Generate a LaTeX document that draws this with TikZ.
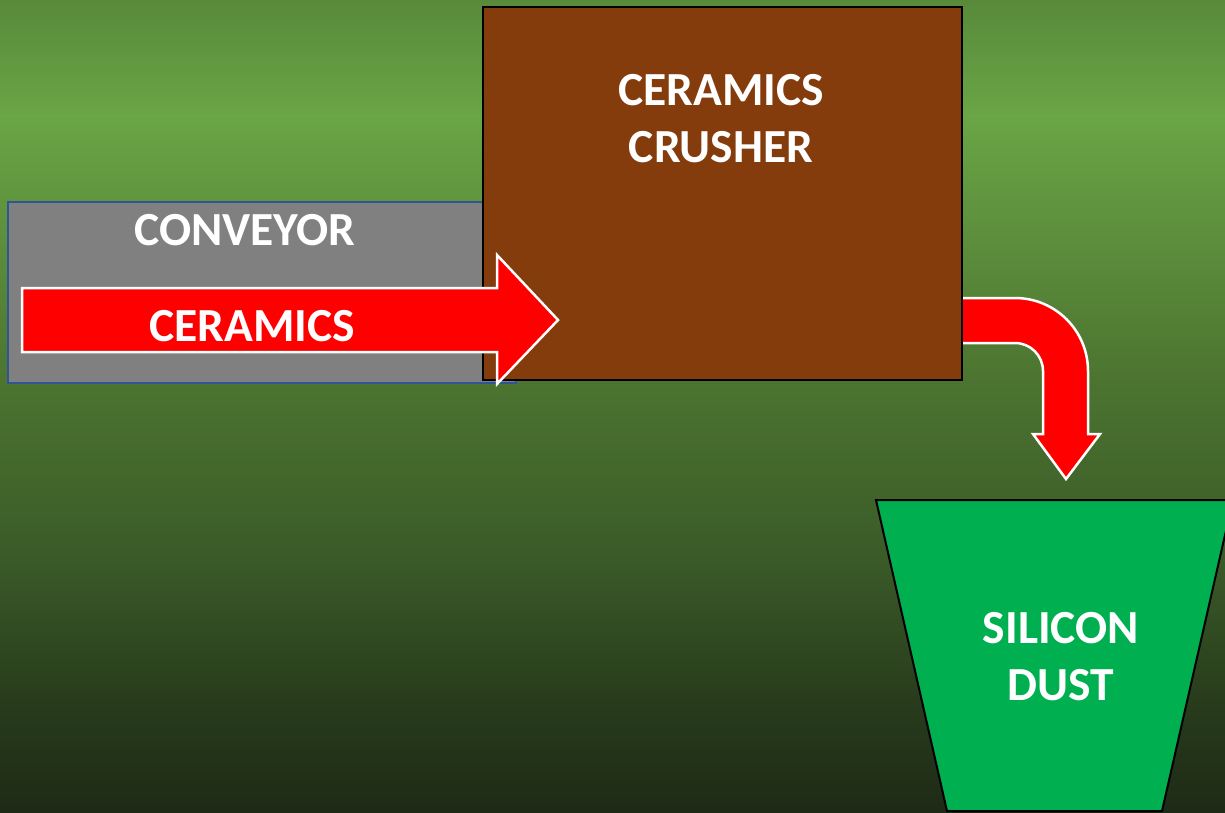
\documentclass[tikz,border=0pt]{standalone}
\usepackage{fontspec}
\setmainfont{Carlito}
\definecolor{bgT}{RGB}{88,138,58}
\definecolor{bgL}{RGB}{106,165,70}
\definecolor{bgB}{RGB}{76,116,48}
\definecolor{bgB2}{RGB}{58,90,40}
\definecolor{bgC}{RGB}{40,60,28}
\definecolor{bgD}{RGB}{30,42,22}
\definecolor{convgray}{RGB}{128,128,128}
\definecolor{convblue}{RGB}{47,85,151}
\definecolor{crushbrown}{RGB}{132,60,12}
\definecolor{dustgreen}{RGB}{0,176,80}
\pgfdeclareverticalshading{fieldshade}{100bp}{color(0bp)=(bgD); color(25bp)=(bgD); color(31.9bp)=(bgC); color(40.5bp)=(bgB2); color(51.6bp)=(bgB); color(67.9bp)=(bgL); color(75bp)=(bgT); color(100bp)=(bgT)}
\tikzset{
  label text/.style={text=white, font=\fontsize{47.5}{57}\selectfont\bfseries, inner sep=0pt, align=center},
  blockarrow/.style={fill=red, draw=white, line width=2.5pt, line join=miter},
}
\begin{document}
\begin{tikzpicture}[x=1pt,y=-1pt]
  \useasboundingbox (0,0) rectangle (1225,812);
  \shade[shading=fieldshade] (0,0) rectangle (1225,812);

  % conveyor belt housing
  \draw[fill=convgray, draw=convblue, line width=1.8pt] (8,202) rectangle (516,383);
  \node[label text] (conveyor) at (245,230) {CONVEYOR};

  % outflow arrow, bending down into the bin
  \draw[blockarrow] (955,298) -- (1015,298) arc[start angle=-90, end angle=0, radius=73]
    -- (1088,434) -- (1100,434) -- (1066,479) -- (1033,434) -- (1043,434)
    -- (1043,371) arc[start angle=0, end angle=-90, radius=28] -- (955,343) -- cycle;

  % crusher
  \draw[fill=crushbrown, draw=black, line width=2pt] (483,7) rectangle (962,380);
  \node[label text] (crusher) at (721,118.5) {CERAMICS\\CRUSHER};

  % feed arrow
  \draw[blockarrow] (22,288) -- (497,288) -- (497,255) -- (558,320) -- (497,384)
    -- (497,352) -- (22,352) -- cycle;
  \node[label text] (feed) at (252,326) {CERAMICS};

  % collection bin
  \draw[fill=dustgreen, draw=black, line width=2pt] (876,500) -- (1233,500) -- (1162,811) -- (947,811) -- cycle;
  \node[label text] (dust) at (1061,656.5) {SILICON\\DUST};
\end{tikzpicture}
\end{document}
